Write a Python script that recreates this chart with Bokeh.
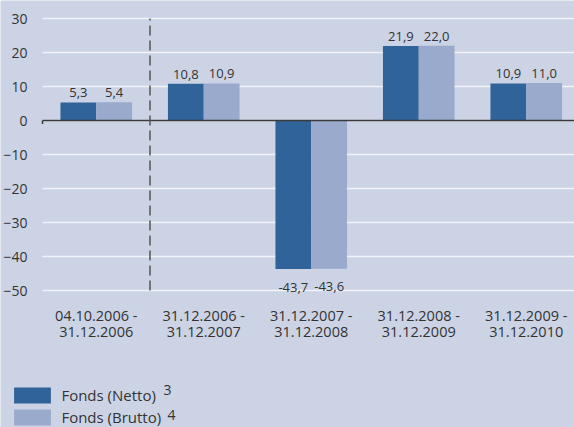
from bokeh.plotting import figure
from bokeh.models import (Range1d, FixedTicker, Legend, LegendItem, Label, LinearAxis)
from bokeh.core.properties import value
from bokeh.embed import file_html
from bokeh.resources import INLINE

# ---- data ----
periods_line1 = ["04.10.2006 -", "31.12.2006 -", "31.12.2007 -", "31.12.2008 -", "31.12.2009 -"]
periods_line2 = ["31.12.2006", "31.12.2007", "31.12.2008", "31.12.2009", "31.12.2010"]
netto = [5.3, 10.8, -43.7, 21.9, 10.9]
brutto = [5.4, 10.9, -43.6, 22.0, 11.0]
y_ticks = [-50, -40, -30, -20, -10, 0, 10, 20, 30]
series_names = ["Fonds (Netto)", "Fonds (Brutto)"]
footnotes = ["3", "4"]

# ---- style / layout ----
BG = "#CCD3E5"
DARK = "#2F6399"
LIGHT = "#99AACC"
TXT = "#333333"
FONT = "Open Sans"
BAR_W = 0.333
W, H = 574, 427
PX_X = 107.5          # pixels per category
PX_Y = 3.4            # pixels per percent point
LEFT = 42             # chart area left edge (px)
TOP30 = 18            # pixel row of the top tick
X_LO = -0.5                       # chart area left in category units
X_HI = X_LO + (W - LEFT) / PX_X   # chart area right
Y_TOP = max(y_ticks)
Y_BOT = min(y_ticks)

n = len(netto)
centers = list(range(n))

p = figure(width=W, height=H,
           x_range=Range1d(X_LO - LEFT / PX_X, X_HI),
           y_range=Range1d(Y_TOP - (H - TOP30) / PX_Y, Y_TOP + TOP30 / PX_Y),
           output_backend="svg", toolbar_location=None,
           x_axis_location=None, y_axis_location=None,
           min_border_left=0, min_border_right=0, min_border_top=0, min_border_bottom=0,
           background_fill_color=BG, border_fill_color=BG, outline_line_color=None)
p.xgrid.grid_line_color = None
p.ygrid.grid_line_color = None

# horizontal grid lines across the chart area
p.segment(x0=[X_LO] * len(y_ticks), y0=y_ticks, x1=[X_HI] * len(y_ticks), y1=y_ticks,
          line_color="#F1F3F8", line_width=1.5)

# y axis (drawn at the chart's left edge)
ya = LinearAxis(ticker=FixedTicker(ticks=y_ticks), fixed_location=X_LO)
ya.axis_line_color = None
ya.major_tick_line_color = None
ya.minor_tick_line_color = None
ya.major_label_text_font = FONT
ya.major_label_text_font_size = "14px"
ya.major_label_text_color = TXT
ya.major_label_standoff = 9
p.add_layout(ya, "left")

# x axes (two lines of period labels)
def make_xaxis(labels, standoff):
    ax = LinearAxis(ticker=FixedTicker(ticks=centers), fixed_location=Y_BOT - 0.5,
                    major_label_overrides={c: l for c, l in zip(centers, labels)})
    ax.axis_line_color = None
    ax.major_tick_line_color = None
    ax.minor_tick_line_color = None
    ax.major_tick_out = 0
    ax.major_tick_in = 0
    ax.major_label_text_font = FONT
    ax.major_label_text_font_size = "14.5px"
    ax.major_label_text_color = TXT
    ax.major_label_standoff = standoff
    return ax

p.add_layout(make_xaxis(periods_line1, 14), "below")
p.add_layout(make_xaxis(periods_line2, 35), "below")

# bars
x_net = [c - BAR_W / 2 for c in centers]
x_bru = [c + BAR_W / 2 for c in centers]
r_net = p.vbar(x=x_net, top=netto, bottom=0, width=BAR_W, fill_color=DARK, line_color=None)
r_bru = p.vbar(x=x_bru, top=brutto, bottom=0, width=BAR_W, fill_color=LIGHT, line_color=None)

# zero line with its small tick at the left end
p.segment(x0=[X_LO], y0=[0], x1=[X_HI], y1=[0], line_color="#3A3A3A", line_width=1.5)
p.segment(x0=[X_LO], y0=[0], x1=[X_LO], y1=[-1], line_color="#3A3A3A", line_width=1.5)

# dashed separator between first (short) period and the following ones
p.segment(x0=[(centers[0] + centers[1]) / 2], y0=[Y_BOT],
          x1=[(centers[0] + centers[1]) / 2], y1=[Y_TOP],
          line_color="#555555", line_width=1.5, line_dash="10 5")

# value labels
def fmt(v):
    return f"{v:.1f}".replace(".", ",")

for xs, vals in ((x_net, netto), (x_bru, brutto)):
    pos = [(x, v) for x, v in zip(xs, vals) if v >= 0]
    neg = [(x, v) for x, v in zip(xs, vals) if v < 0]
    if pos:
        p.text(x=[a for a, _ in pos], y=[b for _, b in pos], text=[fmt(b) for _, b in pos],
               text_align="center", text_baseline="alphabetic", y_offset=-9.5,
               text_font=value(FONT), text_font_size="13px", text_color=TXT)
    if neg:
        p.text(x=[a for a, _ in neg], y=[b for _, b in neg], text=[fmt(b) for _, b in neg],
               text_align="center", text_baseline="alphabetic", y_offset=18,
               text_font=value(FONT), text_font_size="13px", text_color=TXT)

# legend
legend = Legend(items=[LegendItem(label=series_names[0], renderers=[r_net]),
                       LegendItem(label=series_names[1], renderers=[r_bru])],
                location=(9.4, 0), orientation="vertical",
                glyph_width=46, glyph_height=20, label_height=20, label_width=10,
                spacing=2, label_standoff=6, margin=0, padding=0,
                border_line_color=None, background_fill_alpha=0,
                label_text_font=FONT, label_text_font_size="15px", label_text_color=TXT)
p.add_layout(legend)

for note, (sx, sy) in zip(footnotes, [(163, 37.5), (167, 13)]):
    p.add_layout(Label(x=sx, y=sy, x_units="screen", y_units="screen", text=note,
                       text_font=FONT, text_font_size="14px", text_color=TXT,
                       text_align="left", text_baseline="middle"))

open("out.html", "w").write(file_html(p, INLINE))
